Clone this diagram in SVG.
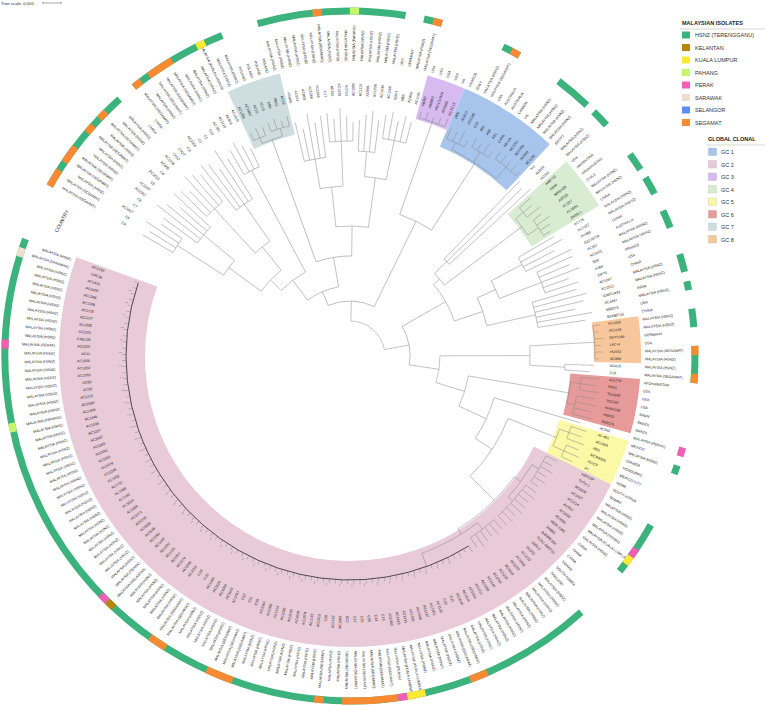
<svg xmlns="http://www.w3.org/2000/svg" width="765" height="705" viewBox="0 0 765 705">
<style>
text{font-family:"Liberation Sans",Arial,sans-serif;fill:#222}
.lv text{font-size:3.6px;dominant-baseline:central}
.f text{text-anchor:end}
.cn line,.cn circle,.cn path{stroke:#8c8c8c;stroke-width:.5;fill:none}
.rg circle,.ring circle{fill:none}
.ring circle{stroke-width:7}
.lg text{font-size:5.5px;fill:#333}
.lg .h{font-weight:bold;fill:#222}
</style>
<rect width="765" height="705" fill="#fff"/>
<g transform="translate(350,356)">
<g id="ranges" class="rg">
<circle r="259.5" stroke-width="63" stroke="#cddde0" pathLength="360" stroke-dasharray="10.85 999" transform="rotate(245.175)"/>
<circle r="268.5" stroke-width="45" stroke="#d6baf0" pathLength="360" stroke-dasharray="7.75 999" transform="rotate(285.475)"/>
<circle r="259.5" stroke-width="63" stroke="#a7c4ec" pathLength="360" stroke-dasharray="20.15 999" transform="rotate(293.225)"/>
<circle r="251.5" stroke-width="79" stroke="#d7ecd0" pathLength="360" stroke-dasharray="10.85 999" transform="rotate(318.025)"/>
<circle r="267.5" stroke-width="47" stroke="#f7c69b" pathLength="360" stroke-dasharray="9.3 999" transform="rotate(352.125)"/>
<circle r="256" stroke-width="70" stroke="#e69a99" pathLength="360" stroke-dasharray="10.85 999" transform="rotate(4.525)"/>
<circle r="255" stroke-width="72" stroke="#fcf9a6" pathLength="360" stroke-dasharray="9.3 999" transform="rotate(16.925)"/>
<circle r="248" stroke-width="86" stroke="#e8cbd7" pathLength="360" stroke-dasharray="173.6 999" transform="rotate(26.225)"/>
</g>
<g id="edges" class="cn">
<circle r="205" pathLength="360" stroke-dasharray="4.65 999" transform="rotate(210.3)"/>
<circle r="190" pathLength="360" stroke-dasharray="6.2 999" transform="rotate(216.5)"/>
<circle r="200" pathLength="360" stroke-dasharray="6.2 999" transform="rotate(224.25)"/>
<circle r="185" pathLength="360" stroke-dasharray="6.2 999" transform="rotate(232)"/>
<circle r="210" pathLength="360" stroke-dasharray="4.65 999" transform="rotate(239.75)"/>
<circle r="150" pathLength="360" stroke-dasharray="6.975 999" transform="rotate(212.625)"/>
<circle r="140" pathLength="360" stroke-dasharray="7.75 999" transform="rotate(227.35)"/>
<circle r="110" pathLength="360" stroke-dasharray="15.115 999" transform="rotate(216.11)"/>
<circle r="95" pathLength="360" stroke-dasharray="18.405 999" transform="rotate(223.67)"/>
<circle r="236" pathLength="360" stroke-dasharray="3.1 999" transform="rotate(245.95)"/>
<circle r="238" pathLength="360" stroke-dasharray="4.65 999" transform="rotate(250.6)"/>
<circle r="230" pathLength="360" stroke-dasharray="5.425 999" transform="rotate(247.5)"/>
<circle r="200" pathLength="360" stroke-dasharray="6.2 999" transform="rotate(256.8)"/>
<circle r="215" pathLength="360" stroke-dasharray="6.2 999" transform="rotate(264.55)"/>
<circle r="205" pathLength="360" stroke-dasharray="4.65 999" transform="rotate(272.3)"/>
<circle r="220" pathLength="360" stroke-dasharray="6.2 999" transform="rotate(278.5)"/>
<circle r="170" pathLength="360" stroke-dasharray="7.75 999" transform="rotate(259.9)"/>
<circle r="180" pathLength="360" stroke-dasharray="6.975 999" transform="rotate(274.625)"/>
<circle r="130" pathLength="360" stroke-dasharray="14.335 999" transform="rotate(263.775)"/>
<circle r="100" pathLength="360" stroke-dasharray="20.73 999" transform="rotate(250.21)"/>
<circle r="70" pathLength="360" stroke-dasharray="27.705 999" transform="rotate(232.87)"/>
<circle r="248" pathLength="360" stroke-dasharray="6.2 999" transform="rotate(286.25)"/>
<circle r="238" pathLength="360" stroke-dasharray="4.65 999" transform="rotate(294)"/>
<circle r="242" pathLength="360" stroke-dasharray="4.65 999" transform="rotate(300.2)"/>
<circle r="245" pathLength="360" stroke-dasharray="6.2 999" transform="rotate(306.4)"/>
<circle r="230" pathLength="360" stroke-dasharray="13.175 999" transform="rotate(296.325)"/>
<circle r="150" pathLength="360" stroke-dasharray="13.56 999" transform="rotate(289.35)"/>
<circle r="55" pathLength="360" stroke-dasharray="49.41 999" transform="rotate(246.72)"/>
<circle r="135" pathLength="360" stroke-dasharray="3.1 999" transform="rotate(314.15)"/>
<circle r="225" pathLength="360" stroke-dasharray="3.1 999" transform="rotate(318.8)"/>
<circle r="228" pathLength="360" stroke-dasharray="4.65 999" transform="rotate(323.45)"/>
<circle r="215" pathLength="360" stroke-dasharray="5.425 999" transform="rotate(320.35)"/>
<circle r="118" pathLength="360" stroke-dasharray="7.36 999" transform="rotate(315.7)"/>
<circle r="195" pathLength="360" stroke-dasharray="4.65 999" transform="rotate(329.65)"/>
<circle r="205" pathLength="360" stroke-dasharray="6.2 999" transform="rotate(335.85)"/>
<circle r="190" pathLength="360" stroke-dasharray="7.75 999" transform="rotate(343.6)"/>
<circle r="160" pathLength="360" stroke-dasharray="6.975 999" transform="rotate(331.975)"/>
<circle r="140" pathLength="360" stroke-dasharray="12.015 999" transform="rotate(335.46)"/>
<circle r="110" pathLength="360" stroke-dasharray="22.09 999" transform="rotate(319.38)"/>
<circle r="245" pathLength="360" stroke-dasharray="7.75 999" transform="rotate(352.9)"/>
<circle r="215" pathLength="360" stroke-dasharray="1.55 999" transform="rotate(2.2)"/>
<circle r="180" pathLength="360" stroke-dasharray="6.2 999" transform="rotate(356.775)"/>
<circle r="232" pathLength="360" stroke-dasharray="3.1 999" transform="rotate(5.3)"/>
<circle r="230" pathLength="360" stroke-dasharray="4.65 999" transform="rotate(9.95)"/>
<circle r="222" pathLength="360" stroke-dasharray="5.425 999" transform="rotate(6.85)"/>
<circle r="232" pathLength="360" stroke-dasharray="3.1 999" transform="rotate(17.7)"/>
<circle r="234" pathLength="360" stroke-dasharray="3.1 999" transform="rotate(22.35)"/>
<circle r="222" pathLength="360" stroke-dasharray="4.65 999" transform="rotate(19.25)"/>
<circle r="220" pathLength="360" stroke-dasharray="7.75 999" transform="rotate(27)"/>
<circle r="218" pathLength="360" stroke-dasharray="10.85 999" transform="rotate(36.3)"/>
<circle r="212" pathLength="360" stroke-dasharray="10.85 999" transform="rotate(30.875)"/>
<circle r="218" pathLength="360" stroke-dasharray="7.75 999" transform="rotate(48.7)"/>
<circle r="210" pathLength="360" stroke-dasharray="17.425 999" transform="rotate(52.575)"/>
<circle r="204" pathLength="360" stroke-dasharray="21.7 999" transform="rotate(36.3)"/>
<circle r="170" pathLength="360" stroke-dasharray="23.425 999" transform="rotate(21.575)"/>
<circle r="150" pathLength="360" stroke-dasharray="17.14 999" transform="rotate(16.15)"/>
<circle r="120" pathLength="360" stroke-dasharray="15.16 999" transform="rotate(9.56)"/>
<circle r="90" pathLength="360" stroke-dasharray="17.265 999" transform="rotate(359.875)"/>
<circle r="60" pathLength="360" stroke-dasharray="38.075 999" transform="rotate(330.425)"/>
<circle r="35" pathLength="360" stroke-dasharray="78.035 999" transform="rotate(271.425)"/>
<line x1="150" x2="205" transform="rotate(212.625)"/>
<line x1="150" x2="190" transform="rotate(219.6)"/>
<line x1="140" x2="200" transform="rotate(227.35)"/>
<line x1="140" x2="185" transform="rotate(235.1)"/>
<line x1="95" x2="210" transform="rotate(242.075)"/>
<line x1="110" x2="150" transform="rotate(216.11)"/>
<line x1="110" x2="140" transform="rotate(231.225)"/>
<line x1="95" x2="110" transform="rotate(223.67)"/>
<line x1="70" x2="95" transform="rotate(232.87)"/>
<line x1="230" x2="236" transform="rotate(247.5)"/>
<line x1="230" x2="238" transform="rotate(252.925)"/>
<line x1="100" x2="230" transform="rotate(250.21)"/>
<line x1="170" x2="200" transform="rotate(259.9)"/>
<line x1="170" x2="215" transform="rotate(267.65)"/>
<line x1="180" x2="205" transform="rotate(274.625)"/>
<line x1="180" x2="220" transform="rotate(281.6)"/>
<line x1="130" x2="170" transform="rotate(263.775)"/>
<line x1="130" x2="180" transform="rotate(278.11)"/>
<line x1="100" x2="130" transform="rotate(270.94)"/>
<line x1="70" x2="100" transform="rotate(260.575)"/>
<line x1="55" x2="70" transform="rotate(246.72)"/>
<line x1="150" x2="248" transform="rotate(289.35)"/>
<line x1="230" x2="238" transform="rotate(296.325)"/>
<line x1="230" x2="242" transform="rotate(302.525)"/>
<line x1="230" x2="245" transform="rotate(309.5)"/>
<line x1="150" x2="230" transform="rotate(302.91)"/>
<line x1="55" x2="150" transform="rotate(296.13)"/>
<line x1="35" x2="55" transform="rotate(271.425)"/>
<line x1="118" x2="135" transform="rotate(315.7)"/>
<line x1="215" x2="225" transform="rotate(320.35)"/>
<line x1="215" x2="228" transform="rotate(325.775)"/>
<line x1="118" x2="215" transform="rotate(323.06)"/>
<line x1="110" x2="118" transform="rotate(319.38)"/>
<line x1="160" x2="195" transform="rotate(331.975)"/>
<line x1="160" x2="205" transform="rotate(338.95)"/>
<line x1="140" x2="160" transform="rotate(335.46)"/>
<line x1="140" x2="190" transform="rotate(347.475)"/>
<line x1="110" x2="140" transform="rotate(341.47)"/>
<line x1="60" x2="110" transform="rotate(330.425)"/>
<line x1="180" x2="245" transform="rotate(356.775)"/>
<line x1="180" x2="215" transform="rotate(2.975)"/>
<line x1="90" x2="180" transform="rotate(359.875)"/>
<line x1="222" x2="232" transform="rotate(6.85)"/>
<line x1="222" x2="230" transform="rotate(12.275)"/>
<line x1="120" x2="222" transform="rotate(9.56)"/>
<line x1="222" x2="232" transform="rotate(19.25)"/>
<line x1="222" x2="234" transform="rotate(23.9)"/>
<line x1="170" x2="222" transform="rotate(21.575)"/>
<line x1="212" x2="220" transform="rotate(30.875)"/>
<line x1="212" x2="218" transform="rotate(41.725)"/>
<line x1="204" x2="212" transform="rotate(36.3)"/>
<line x1="210" x2="218" transform="rotate(52.575)"/>
<line x1="210" x2="224" transform="rotate(70)"/>
<line x1="204" x2="210" transform="rotate(58)"/>
<line x1="170" x2="204" transform="rotate(45)"/>
<line x1="150" x2="170" transform="rotate(33.29)"/>
<line x1="120" x2="150" transform="rotate(24.72)"/>
<line x1="90" x2="120" transform="rotate(17.14)"/>
<line x1="60" x2="90" transform="rotate(8.5)"/>
<line x1="35" x2="60" transform="rotate(349.46)"/>
<line x1="205" x2="240" transform="rotate(210.3)"/>
<line x1="205" x2="236" transform="rotate(211.85)"/>
<line x1="205" x2="244" transform="rotate(213.4)"/>
<line x1="205" x2="230" transform="rotate(214.95)"/>
<line x1="190" x2="232" transform="rotate(216.5)"/>
<line x1="190" x2="245" transform="rotate(218.05)"/>
<line x1="190" x2="238" transform="rotate(219.6)"/>
<line x1="190" x2="226" transform="rotate(221.15)"/>
<line x1="190" x2="240" transform="rotate(222.7)"/>
<line x1="200" x2="236" transform="rotate(224.25)"/>
<line x1="200" x2="230" transform="rotate(225.8)"/>
<line x1="200" x2="244" transform="rotate(227.35)"/>
<line x1="200" x2="240" transform="rotate(228.9)"/>
<line x1="200" x2="235" transform="rotate(230.45)"/>
<line x1="185" x2="242" transform="rotate(232)"/>
<line x1="185" x2="238" transform="rotate(233.55)"/>
<line x1="185" x2="228" transform="rotate(235.1)"/>
<line x1="185" x2="246" transform="rotate(236.65)"/>
<line x1="185" x2="232" transform="rotate(238.2)"/>
<line x1="210" x2="238" transform="rotate(239.75)"/>
<line x1="210" x2="243" transform="rotate(241.3)"/>
<line x1="210" x2="236" transform="rotate(242.85)"/>
<line x1="210" x2="230" transform="rotate(244.4)"/>
<line x1="236" x2="244" transform="rotate(245.95)"/>
<line x1="236" x2="247" transform="rotate(247.5)"/>
<line x1="236" x2="245" transform="rotate(249.05)"/>
<line x1="238" x2="247" transform="rotate(250.6)"/>
<line x1="238" x2="249" transform="rotate(252.15)"/>
<line x1="238" x2="245" transform="rotate(253.7)"/>
<line x1="238" x2="248" transform="rotate(255.25)"/>
<line x1="200" x2="240" transform="rotate(256.8)"/>
<line x1="200" x2="232" transform="rotate(258.35)"/>
<line x1="200" x2="246" transform="rotate(259.9)"/>
<line x1="200" x2="236" transform="rotate(261.45)"/>
<line x1="200" x2="242" transform="rotate(263)"/>
<line x1="215" x2="244" transform="rotate(264.55)"/>
<line x1="215" x2="238" transform="rotate(266.1)"/>
<line x1="215" x2="248" transform="rotate(267.65)"/>
<line x1="215" x2="240" transform="rotate(269.2)"/>
<line x1="215" x2="234" transform="rotate(270.75)"/>
<line x1="205" x2="236" transform="rotate(272.3)"/>
<line x1="205" x2="242" transform="rotate(273.85)"/>
<line x1="205" x2="246" transform="rotate(275.4)"/>
<line x1="205" x2="238" transform="rotate(276.95)"/>
<line x1="220" x2="244" transform="rotate(278.5)"/>
<line x1="220" x2="248" transform="rotate(280.05)"/>
<line x1="220" x2="240" transform="rotate(281.6)"/>
<line x1="220" x2="246" transform="rotate(283.15)"/>
<line x1="220" x2="242" transform="rotate(284.7)"/>
<line x1="248" x2="254" transform="rotate(286.25)"/>
<line x1="248" x2="256" transform="rotate(287.8)"/>
<line x1="248" x2="253" transform="rotate(289.35)"/>
<line x1="248" x2="255" transform="rotate(290.9)"/>
<line x1="248" x2="257" transform="rotate(292.45)"/>
<line x1="238" x2="250" transform="rotate(294)"/>
<line x1="238" x2="248" transform="rotate(295.55)"/>
<line x1="238" x2="252" transform="rotate(297.1)"/>
<line x1="238" x2="246" transform="rotate(298.65)"/>
<line x1="242" x2="252" transform="rotate(300.2)"/>
<line x1="242" x2="250" transform="rotate(301.75)"/>
<line x1="242" x2="254" transform="rotate(303.3)"/>
<line x1="242" x2="248" transform="rotate(304.85)"/>
<line x1="245" x2="253" transform="rotate(306.4)"/>
<line x1="245" x2="255" transform="rotate(307.95)"/>
<line x1="245" x2="252" transform="rotate(309.5)"/>
<line x1="245" x2="254" transform="rotate(311.05)"/>
<line x1="245" x2="250" transform="rotate(312.6)"/>
<line x1="135" x2="244" transform="rotate(314.15)"/>
<line x1="135" x2="240" transform="rotate(315.7)"/>
<line x1="135" x2="246" transform="rotate(317.25)"/>
<line x1="225" x2="240" transform="rotate(318.8)"/>
<line x1="225" x2="236" transform="rotate(320.35)"/>
<line x1="225" x2="242" transform="rotate(321.9)"/>
<line x1="228" x2="238" transform="rotate(323.45)"/>
<line x1="228" x2="244" transform="rotate(325)"/>
<line x1="228" x2="240" transform="rotate(326.55)"/>
<line x1="228" x2="236" transform="rotate(328.1)"/>
<line x1="195" x2="236" transform="rotate(329.65)"/>
<line x1="195" x2="242" transform="rotate(331.2)"/>
<line x1="195" x2="230" transform="rotate(332.75)"/>
<line x1="195" x2="246" transform="rotate(334.3)"/>
<line x1="205" x2="244" transform="rotate(335.85)"/>
<line x1="205" x2="238" transform="rotate(337.4)"/>
<line x1="205" x2="246" transform="rotate(338.95)"/>
<line x1="205" x2="232" transform="rotate(340.5)"/>
<line x1="205" x2="240" transform="rotate(342.05)"/>
<line x1="190" x2="236" transform="rotate(343.6)"/>
<line x1="190" x2="244" transform="rotate(345.15)"/>
<line x1="190" x2="240" transform="rotate(346.7)"/>
<line x1="190" x2="230" transform="rotate(348.25)"/>
<line x1="190" x2="246" transform="rotate(349.8)"/>
<line x1="190" x2="238" transform="rotate(351.35)"/>
<line x1="245" x2="252" transform="rotate(352.9)"/>
<line x1="245" x2="250" transform="rotate(354.45)"/>
<line x1="245" x2="254" transform="rotate(356)"/>
<line x1="245" x2="251" transform="rotate(357.55)"/>
<line x1="245" x2="253" transform="rotate(359.1)"/>
<line x1="245" x2="249" transform="rotate(0.65)"/>
<line x1="215" x2="244" transform="rotate(2.2)"/>
<line x1="215" x2="240" transform="rotate(3.75)"/>
<line x1="232" x2="250" transform="rotate(5.3)"/>
<line x1="232" x2="248" transform="rotate(6.85)"/>
<line x1="232" x2="252" transform="rotate(8.4)"/>
<line x1="230" x2="249" transform="rotate(9.95)"/>
<line x1="230" x2="251" transform="rotate(11.5)"/>
<line x1="230" x2="247" transform="rotate(13.05)"/>
<line x1="230" x2="250" transform="rotate(14.6)"/>
<line x1="150" x2="240" transform="rotate(16.15)"/>
<line x1="232" x2="248" transform="rotate(17.7)"/>
<line x1="232" x2="245" transform="rotate(19.25)"/>
<line x1="232" x2="250" transform="rotate(20.8)"/>
<line x1="234" x2="247" transform="rotate(22.35)"/>
<line x1="234" x2="250" transform="rotate(23.9)"/>
<line x1="234" x2="246" transform="rotate(25.45)"/>
<line x1="220" x2="232" transform="rotate(27)"/>
<line x1="220" x2="230" transform="rotate(28.55)"/>
<line x1="220" x2="234" transform="rotate(30.1)"/>
<line x1="220" x2="231" transform="rotate(31.65)"/>
<line x1="220" x2="233" transform="rotate(33.2)"/>
<line x1="220" x2="229" transform="rotate(34.75)"/>
<line x1="218" x2="231" transform="rotate(36.3)"/>
<line x1="218" x2="233" transform="rotate(37.85)"/>
<line x1="218" x2="230" transform="rotate(39.4)"/>
<line x1="218" x2="232" transform="rotate(40.95)"/>
<line x1="218" x2="234" transform="rotate(42.5)"/>
<line x1="218" x2="230" transform="rotate(44.05)"/>
<line x1="218" x2="232" transform="rotate(45.6)"/>
<line x1="218" x2="231" transform="rotate(47.15)"/>
<line x1="218" x2="230" transform="rotate(48.7)"/>
<line x1="218" x2="232" transform="rotate(50.25)"/>
<line x1="218" x2="229" transform="rotate(51.8)"/>
<line x1="218" x2="231" transform="rotate(53.35)"/>
<line x1="218" x2="233" transform="rotate(54.9)"/>
<line x1="218" x2="230" transform="rotate(56.45)"/>
<path d="M119.96 191.52A226 226 0 0 1 -213.55 -73.99" pathLength="141.17" style="stroke-width:4;stroke-dasharray:0.12 1.43"/>
<path d="M121.82 194.49A229.5 229.5 0 0 1 -216.85 -75.14" pathLength="141.17" style="stroke-width:3;stroke-dasharray:0.12 3.03"/>
<circle r="224" pathLength="360" stroke-dasharray="141.05 999" transform="rotate(58)" style="stroke:#3a3a3a;stroke-width:.8"/>
</g>
<g class="lv f">
<g id="n0" transform="rotate(30.3)"><text x="-260">C9</text><text x="-295">MALAYSIA (SEGAMAT)</text></g>
<g id="n1" transform="rotate(31.85)"><text x="-260">C8</text><text x="-295">MALAYSIA (SEGAMAT)</text></g>
<g id="n2" transform="rotate(33.4)"><text x="-260">AC1017</text><text x="-295">MALAYSIA (HSNZ)</text></g>
<g id="n3" transform="rotate(34.95)"><text x="-260">C7</text><text x="-295">MALAYSIA (SEGAMAT)</text></g>
<g id="n4" transform="rotate(36.5)"><text x="-260">C6</text><text x="-295">MALAYSIA (SEGAMAT)</text></g>
<g id="n5" transform="rotate(38.05)"><text x="-260">AC1092</text><text x="-295">MALAYSIA (HSNZ)</text></g>
<g id="n6" transform="rotate(39.6)"><text x="-260">AC1107</text><text x="-295">MALAYSIA (HSNZ)</text></g>
<g id="n7" transform="rotate(41.15)"><text x="-260">C5</text><text x="-295">MALAYSIA (SEGAMAT)</text></g>
<g id="n8" transform="rotate(42.7)"><text x="-260">AC1019</text><text x="-295">MALAYSIA (HSNZ)</text></g>
<g id="n9" transform="rotate(44.25)"><text x="-260">C4</text><text x="-295">MALAYSIA (SEGAMAT)</text></g>
<g id="n10" transform="rotate(45.8)"><text x="-260">AC905</text><text x="-295">MALAYSIA (HSNZ)</text></g>
<g id="n11" transform="rotate(47.35)"><text x="-260">AC1108</text><text x="-295">MALAYSIA (HSNZ)</text></g>
<g id="n12" transform="rotate(48.9)"><text x="-260">CH12</text><text x="-295">CHINA</text></g>
<g id="n13" transform="rotate(50.45)"><text x="-260">CH27</text><text x="-295">CHINA</text></g>
<g id="n14" transform="rotate(52)"><text x="-260">C3</text><text x="-295">MALAYSIA (SEGAMAT)</text></g>
<g id="n15" transform="rotate(53.55)"><text x="-260">AC1056</text><text x="-295">MALAYSIA (HSNZ)</text></g>
<g id="n16" transform="rotate(55.1)"><text x="-260">C2</text><text x="-295">MALAYSIA (SEGAMAT)</text></g>
<g id="n17" transform="rotate(56.65)"><text x="-260">C1</text><text x="-295">MALAYSIA (SEGAMAT)</text></g>
<g id="n18" transform="rotate(58.2)"><text x="-260">C12</text><text x="-295">MALAYSIA (SEGAMAT)</text></g>
<g id="n19" transform="rotate(59.75)"><text x="-260">AC760</text><text x="-295">MALAYSIA (HSNZ)</text></g>
<g id="n20" transform="rotate(61.3)"><text x="-260">AC1120</text><text x="-295">MALAYSIA (HSNZ)</text></g>
<g id="n21" transform="rotate(62.85)"><text x="-260">AC824</text><text x="-295">MALAYSIA (HSNZ)</text></g>
<g id="n22" transform="rotate(64.4)"><text x="-260">AC1410</text><text x="-295">MALAYSIA (KUALA LUMPUR)</text></g>
<g id="n23" transform="rotate(65.95)"><text x="-260">AC1236</text><text x="-295">MALAYSIA (HSNZ)</text></g>
<g id="n24" transform="rotate(67.5)"><text x="-260">AC1063</text><text x="-295">MALAYSIA (HSNZ)</text></g>
<g id="n25" transform="rotate(69.05)"><text x="-260">AC15</text><text x="-295">POLAND</text></g>
<g id="n26" transform="rotate(70.6)"><text x="-260">AC10</text><text x="-295">POLAND</text></g>
<g id="n27" transform="rotate(72.15)"><text x="-260">AB9</text><text x="-295">POLAND</text></g>
<g id="n28" transform="rotate(73.7)"><text x="-260">AB11</text><text x="-295">POLAND</text></g>
<g id="n29" transform="rotate(75.25)"><text x="-260">AC26</text><text x="-295">MALAYSIA (HSNZ)</text></g>
<g id="n30" transform="rotate(76.8)"><text x="-260">AC894</text><text x="-295">MALAYSIA (HSNZ)</text></g>
<g id="n31" transform="rotate(78.35)"><text x="-260">AC974</text><text x="-295">MALAYSIA (HSNZ)</text></g>
<g id="n32" transform="rotate(79.9)"><text x="-260">AC803</text><text x="-295">MALAYSIA (HSNZ)</text></g>
<g id="n33" transform="rotate(81.45)"><text x="-260">AC1268</text><text x="-295">MALAYSIA (HSNZ)</text></g>
<g id="n34" transform="rotate(83)"><text x="-260">AC1055</text><text x="-295">MALAYSIA (HSNZ)</text></g>
<g id="n35" transform="rotate(84.55)"><text x="-260">C17</text><text x="-295">MALAYSIA (SEGAMAT)</text></g>
<g id="n36" transform="rotate(86.1)"><text x="-260">AC651</text><text x="-295">MALAYSIA (HSNZ)</text></g>
<g id="n37" transform="rotate(87.65)"><text x="-260">AC1228</text><text x="-295">MALAYSIA (HSNZ)</text></g>
<g id="n38" transform="rotate(89.2)"><text x="-260">AC763</text><text x="-295">MALAYSIA (HSNZ)</text></g>
</g>
<g class="lv">
<g id="n39" transform="rotate(270.75)"><text x="260">AC1005</text><text x="295">MALAYSIA (PAHANG)</text></g>
<g id="n40" transform="rotate(272.3)"><text x="260">AC1131</text><text x="295">MALAYSIA (HSNZ)</text></g>
<g id="n41" transform="rotate(273.85)"><text x="260">AC896</text><text x="295">MALAYSIA (HSNZ)</text></g>
<g id="n42" transform="rotate(275.4)"><text x="260">AC1226</text><text x="295">MALAYSIA (HSNZ)</text></g>
<g id="n43" transform="rotate(276.95)"><text x="260">AC1040</text><text x="295">MALAYSIA (HSNZ)</text></g>
<g id="n44" transform="rotate(278.5)"><text x="260">AC1168</text><text x="295">MALAYSIA (HSNZ)</text></g>
<g id="n45" transform="rotate(280.05)"><text x="260">SDF1</text><text x="295">USA</text></g>
<g id="n46" transform="rotate(281.6)"><text x="260">AB6</text><text x="295">GERMANY</text></g>
<g id="n47" transform="rotate(283.15)"><text x="260">AC856</text><text x="295">MALAYSIA (HSNZ)</text></g>
<g id="n48" transform="rotate(284.7)"><text x="260">AC1105</text><text x="295">MALAYSIA (SEGAMAT)</text></g>
<g id="n49" transform="rotate(286.25)"><text x="260">AB307</text><text x="295">USA</text></g>
<g id="n50" transform="rotate(287.8)"><text x="260">AB0057</text><text x="295">USA</text></g>
<g id="n51" transform="rotate(289.35)"><text x="260">ATCC17978</text><text x="295">USA</text></g>
<g id="n52" transform="rotate(290.9)"><text x="260">AR0083</text><text x="295">USA</text></g>
<g id="n53" transform="rotate(292.45)"><text x="260">NCTC13</text><text x="295">UK</text></g>
<g id="n54" transform="rotate(294)"><text x="260">AYE</text><text x="295">FRANCE</text></g>
<g id="n55" transform="rotate(295.55)"><text x="260">ACICU</text><text x="295">ITALY</text></g>
<g id="n56" transform="rotate(297.1)"><text x="260">AC1246</text><text x="295">MALAYSIA (HSNZ)</text></g>
<g id="n57" transform="rotate(298.65)"><text x="260">C20</text><text x="295">MALAYSIA (SEGAMAT)</text></g>
<g id="n58" transform="rotate(300.2)"><text x="260">AB1</text><text x="295">USA</text></g>
<g id="n59" transform="rotate(301.75)"><text x="260">A85</text><text x="295">AUSTRALIA</text></g>
<g id="n60" transform="rotate(303.3)"><text x="260">A91</text><text x="295">AUSTRALIA</text></g>
<g id="n61" transform="rotate(304.85)"><text x="260">CAN1</text><text x="295">CANADA</text></g>
<g id="n62" transform="rotate(306.4)"><text x="260">AB-UK</text><text x="295">UK</text></g>
<g id="n63" transform="rotate(307.95)"><text x="260">AC1021</text><text x="295">MALAYSIA (HSNZ)</text></g>
<g id="n64" transform="rotate(309.5)"><text x="260">AC1096</text><text x="295">MALAYSIA (HSNZ)</text></g>
<g id="n65" transform="rotate(311.05)"><text x="260">AC830</text><text x="295">MALAYSIA (HSNZ)</text></g>
<g id="n66" transform="rotate(312.6)"><text x="260">AC1190</text><text x="295">MALAYSIA (HSNZ)</text></g>
<g id="n67" transform="rotate(314.15)"><text x="260">KU</text><text x="295">EGYPT</text></g>
<g id="n68" transform="rotate(315.7)"><text x="260">AC839</text><text x="295">MALAYSIA (HSNZ)</text></g>
<g id="n69" transform="rotate(317.25)"><text x="260">AC315</text><text x="295">MALAYSIA (HSNZ)</text></g>
<g id="n70" transform="rotate(318.8)"><text x="260">AM6713</text><text x="295">USA</text></g>
<g id="n71" transform="rotate(320.35)"><text x="260">AB40</text><text x="295">ARGENTINA</text></g>
<g id="n72" transform="rotate(321.9)"><text x="260">MRSN58</text><text x="295">AFGHANISTAN</text></g>
<g id="n73" transform="rotate(323.45)"><text x="260">ABT35</text><text x="295">CHILE</text></g>
<g id="n74" transform="rotate(325)"><text x="260">AC227</text><text x="295">MALAYSIA (HSNZ)</text></g>
<g id="n75" transform="rotate(326.55)"><text x="260">AC1081</text><text x="295">MALAYSIA (HSNZ)</text></g>
<g id="n76" transform="rotate(328.1)"><text x="260">ZW85-1</text><text x="295">CHINA</text></g>
<g id="n77" transform="rotate(329.65)"><text x="260">AC176</text><text x="295">MALAYSIA (HSNZ)</text></g>
<g id="n78" transform="rotate(331.2)"><text x="260">AC1227</text><text x="295">MALAYSIA (HSNZ)</text></g>
<g id="n79" transform="rotate(332.75)"><text x="260">XH386</text><text x="295">CHINA</text></g>
<g id="n80" transform="rotate(334.3)"><text x="260">D1279779</text><text x="295">AUSTRALIA</text></g>
<g id="n81" transform="rotate(335.85)"><text x="260">AC167</text><text x="295">MALAYSIA (HSNZ)</text></g>
<g id="n82" transform="rotate(337.4)"><text x="260">AC1401</text><text x="295">MALAYSIA (HSNZ)</text></g>
<g id="n83" transform="rotate(338.95)"><text x="260">SDF</text><text x="295">FRANCE</text></g>
<g id="n84" transform="rotate(340.5)"><text x="260">A388</text><text x="295">USA</text></g>
<g id="n85" transform="rotate(342.05)"><text x="260">CIP70</text><text x="295">CHINA</text></g>
<g id="n86" transform="rotate(343.6)"><text x="260">AC1047</text><text x="295">MALAYSIA (HSNZ)</text></g>
<g id="n87" transform="rotate(345.15)"><text x="260">AC1012</text><text x="295">MALAYSIA (HSNZ)</text></g>
<g id="n88" transform="rotate(346.7)"><text x="260">IOMTU433</text><text x="295">INDIA</text></g>
<g id="n89" transform="rotate(348.25)"><text x="260">AC1487</text><text x="295">MALAYSIA (HSNZ)</text></g>
<g id="n90" transform="rotate(349.8)"><text x="260">AB5075</text><text x="295">USA</text></g>
<g id="n91" transform="rotate(351.35)"><text x="260">BJAB0715</text><text x="295">CHINA</text></g>
<g id="n92" transform="rotate(352.9)"><text x="260">AC1000</text><text x="295">MALAYSIA (HSNZ)</text></g>
<g id="n93" transform="rotate(354.45)"><text x="260">AC1126</text><text x="295">MALAYSIA (HSNZ)</text></g>
<g id="n94" transform="rotate(356)"><text x="260">DKY1166</text><text x="295">GERMANY</text></g>
<g id="n95" transform="rotate(357.55)"><text x="260">LAC-4</text><text x="295">USA</text></g>
<g id="n96" transform="rotate(359.1)"><text x="260">HU042</text><text x="295">MALAYSIA (SEGAMAT)</text></g>
<g id="n97" transform="rotate(0.65)"><text x="260">AC898</text><text x="295">MALAYSIA (HSNZ)</text></g>
<g id="n98" transform="rotate(2.2)"><text x="260">AC418</text><text x="295">MALAYSIA (HSNZ)</text></g>
<g id="n99" transform="rotate(3.75)"><text x="260">C18</text><text x="295">MALAYSIA (SEGAMAT)</text></g>
<g id="n100" transform="rotate(5.3)"><text x="260">AF1779</text><text x="295">AFGHANISTAN</text></g>
<g id="n101" transform="rotate(6.85)"><text x="260">PR11</text><text x="295">USA</text></g>
<g id="n102" transform="rotate(8.4)"><text x="260">TG1908</text><text x="295">USA</text></g>
<g id="n103" transform="rotate(9.95)"><text x="260">TG2287</text><text x="295">USA</text></g>
<g id="n104" transform="rotate(11.5)"><text x="260">HHN1138</text><text x="295">SPAIN</text></g>
<g id="n105" transform="rotate(13.05)"><text x="260">HN002</text><text x="295">BRAZIL</text></g>
<g id="n106" transform="rotate(14.6)"><text x="260">AB0175</text><text x="295">BRAZIL</text></g>
<g id="n107" transform="rotate(16.15)"><text x="260">AC652</text><text x="295">MALAYSIA (PERAK)</text></g>
<g id="n108" transform="rotate(17.7)"><text x="260">AF-401</text><text x="295">MEXICO</text></g>
<g id="n109" transform="rotate(19.25)"><text x="260">AC1458</text><text x="295">MALAYSIA (HSNZ)</text></g>
<g id="n110" transform="rotate(20.8)"><text x="260">AB3</text><text x="295">CANADA</text></g>
<g id="n111" transform="rotate(22.35)"><text x="260">MCR8369</text><text x="295">HONDURAS</text></g>
<g id="n112" transform="rotate(23.9)"><text x="260">ACICP</text><text x="295">MEXICO CITY</text></g>
<g id="n113" transform="rotate(25.45)"><text x="260">A1</text><text x="295">ROME</text></g>
<g id="n114" transform="rotate(27)"><text x="260">KBN10P</text><text x="295">SOUTH KOREA</text></g>
<g id="n115" transform="rotate(28.55)"><text x="260">TYTH-1</text><text x="295">TAIWAN</text></g>
<g id="n116" transform="rotate(30.1)"><text x="260">AC1100</text><text x="295">MALAYSIA (HSNZ)</text></g>
<g id="n117" transform="rotate(31.65)"><text x="260">AC1027</text><text x="295">MALAYSIA (HSNZ)</text></g>
<g id="n118" transform="rotate(33.2)"><text x="260">AC1214</text><text x="295">MALAYSIA (HSNZ)</text></g>
<g id="n119" transform="rotate(34.75)"><text x="260">AC654</text><text x="295">MALAYSIA (PERAK)</text></g>
<g id="n120" transform="rotate(36.3)"><text x="260">AC1416</text><text x="295">MALAYSIA (KUALA LUMPUR)</text></g>
<g id="n121" transform="rotate(37.85)"><text x="260">AC1035</text><text x="295">MALAYSIA (HSNZ)</text></g>
<g id="n122" transform="rotate(39.4)"><text x="260">MDR-ZJ06</text><text x="295">CHINA</text></g>
<g id="n123" transform="rotate(40.95)"><text x="260">XH860</text><text x="295">CHINA</text></g>
<g id="n124" transform="rotate(42.5)"><text x="260">BJAB07104</text><text x="295">CHINA</text></g>
<g id="n125" transform="rotate(44.05)"><text x="260">TCDC-AB0715</text><text x="295">TAIWAN</text></g>
<g id="n126" transform="rotate(45.6)"><text x="260">1656-2</text><text x="295">SOUTH KOREA</text></g>
<g id="n127" transform="rotate(47.15)"><text x="260">DU202</text><text x="295">THAILAND</text></g>
<g id="n128" transform="rotate(48.7)"><text x="260">AC1133</text><text x="295">MALAYSIA (HSNZ)</text></g>
<g id="n129" transform="rotate(50.25)"><text x="260">AC1062</text><text x="295">MALAYSIA (HSNZ)</text></g>
<g id="n130" transform="rotate(51.8)"><text x="260">AC1170</text><text x="295">MALAYSIA (HSNZ)</text></g>
<g id="n131" transform="rotate(53.35)"><text x="260">AC1018</text><text x="295">MALAYSIA (HSNZ)</text></g>
<g id="n132" transform="rotate(54.9)"><text x="260">AC1229</text><text x="295">MALAYSIA (HSNZ)</text></g>
<g id="n133" transform="rotate(56.45)"><text x="260">AC1093</text><text x="295">MALAYSIA (HSNZ)</text></g>
<g id="n134" transform="rotate(58)"><text x="260">AC1140</text><text x="295">MALAYSIA (HSNZ)</text></g>
<g id="n135" transform="rotate(59.55)"><text x="260">AC1084</text><text x="295">MALAYSIA (HSNZ)</text></g>
<g id="n136" transform="rotate(61.1)"><text x="260">AC1211</text><text x="295">MALAYSIA (HSNZ)</text></g>
<g id="n137" transform="rotate(62.65)"><text x="260">AC1004</text><text x="295">MALAYSIA (HSNZ)</text></g>
<g id="n138" transform="rotate(64.2)"><text x="260">AC1159</text><text x="295">MALAYSIA (HSNZ)</text></g>
<g id="n139" transform="rotate(65.75)"><text x="260">AC1076</text><text x="295">MALAYSIA (HSNZ)</text></g>
<g id="n140" transform="rotate(67.3)"><text x="260">C21</text><text x="295">MALAYSIA (SEGAMAT)</text></g>
<g id="n141" transform="rotate(68.85)"><text x="260">C22</text><text x="295">MALAYSIA (SEGAMAT)</text></g>
<g id="n142" transform="rotate(70.4)"><text x="260">AC1122</text><text x="295">MALAYSIA (HSNZ)</text></g>
<g id="n143" transform="rotate(71.95)"><text x="260">AC1031</text><text x="295">MALAYSIA (HSNZ)</text></g>
<g id="n144" transform="rotate(73.5)"><text x="260">AC1187</text><text x="295">MALAYSIA (HSNZ)</text></g>
<g id="n145" transform="rotate(75.05)"><text x="260">AC1048</text><text x="295">MALAYSIA (HSNZ)</text></g>
<g id="n146" transform="rotate(76.6)"><text x="260">AC1205</text><text x="295">MALAYSIA (HSNZ)</text></g>
<g id="n147" transform="rotate(78.15)"><text x="260">AC1411</text><text x="295">MALAYSIA (KUALA LUMPUR)</text></g>
<g id="n148" transform="rotate(79.7)"><text x="260">AC1413</text><text x="295">MALAYSIA (KUALA LUMPUR)</text></g>
<g id="n149" transform="rotate(81.25)"><text x="260">AC1402</text><text x="295">MALAYSIA (PERAK)</text></g>
<g id="n150" transform="rotate(82.8)"><text x="260">C23</text><text x="295">MALAYSIA (SEGAMAT)</text></g>
<g id="n151" transform="rotate(84.35)"><text x="260">C24</text><text x="295">MALAYSIA (SEGAMAT)</text></g>
<g id="n152" transform="rotate(85.9)"><text x="260">C25</text><text x="295">MALAYSIA (SEGAMAT)</text></g>
<g id="n153" transform="rotate(87.45)"><text x="260">C26</text><text x="295">MALAYSIA (SEGAMAT)</text></g>
<g id="n154" transform="rotate(89)"><text x="260">C27</text><text x="295">MALAYSIA (SEGAMAT)</text></g>
</g>
<g class="lv f">
<g id="n155" transform="rotate(270.55)"><text x="-260">C28</text><text x="-295">MALAYSIA (SEGAMAT)</text></g>
<g id="n156" transform="rotate(272.1)"><text x="-260">AC1069</text><text x="-295">MALAYSIA (HSNZ)</text></g>
<g id="n157" transform="rotate(273.65)"><text x="-260">AC1152</text><text x="-295">MALAYSIA (HSNZ)</text></g>
<g id="n158" transform="rotate(275.2)"><text x="-260">C29</text><text x="-295">MALAYSIA (SEGAMAT)</text></g>
<g id="n159" transform="rotate(276.75)"><text x="-260">AC1013</text><text x="-295">MALAYSIA (HSNZ)</text></g>
<g id="n160" transform="rotate(278.3)"><text x="-260">AC1197</text><text x="-295">MALAYSIA (HSNZ)</text></g>
<g id="n161" transform="rotate(279.85)"><text x="-260">AC1074</text><text x="-295">MALAYSIA (HSNZ)</text></g>
<g id="n162" transform="rotate(281.4)"><text x="-260">AC1028</text><text x="-295">MALAYSIA (HSNZ)</text></g>
<g id="n163" transform="rotate(282.95)"><text x="-260">AC1165</text><text x="-295">MALAYSIA (HSNZ)</text></g>
<g id="n164" transform="rotate(284.5)"><text x="-260">AC1090</text><text x="-295">MALAYSIA (HSNZ)</text></g>
<g id="n165" transform="rotate(286.05)"><text x="-260">AC1216</text><text x="-295">MALAYSIA (HSNZ)</text></g>
<g id="n166" transform="rotate(287.6)"><text x="-260">AC1038</text><text x="-295">MALAYSIA (HSNZ)</text></g>
<g id="n167" transform="rotate(289.15)"><text x="-260">AC1143</text><text x="-295">MALAYSIA (HSNZ)</text></g>
<g id="n168" transform="rotate(290.7)"><text x="-260">C30</text><text x="-295">MALAYSIA (SEGAMAT)</text></g>
<g id="n169" transform="rotate(292.25)"><text x="-260">C31</text><text x="-295">MALAYSIA (SEGAMAT)</text></g>
<g id="n170" transform="rotate(293.8)"><text x="-260">C32</text><text x="-295">MALAYSIA (SEGAMAT)</text></g>
<g id="n171" transform="rotate(295.35)"><text x="-260">AC1057</text><text x="-295">MALAYSIA (HSNZ)</text></g>
<g id="n172" transform="rotate(296.9)"><text x="-260">AC1183</text><text x="-295">MALAYSIA (HSNZ)</text></g>
<g id="n173" transform="rotate(298.45)"><text x="-260">AC1009</text><text x="-295">MALAYSIA (HSNZ)</text></g>
<g id="n174" transform="rotate(300)"><text x="-260">AC1124</text><text x="-295">MALAYSIA (HSNZ)</text></g>
<g id="n175" transform="rotate(301.55)"><text x="-260">AC1066</text><text x="-295">MALAYSIA (HSNZ)</text></g>
<g id="n176" transform="rotate(303.1)"><text x="-260">C33</text><text x="-295">MALAYSIA (SEGAMAT)</text></g>
<g id="n177" transform="rotate(304.65)"><text x="-260">C34</text><text x="-295">MALAYSIA (SEGAMAT)</text></g>
<g id="n178" transform="rotate(306.2)"><text x="-260">AC1201</text><text x="-295">MALAYSIA (HSNZ)</text></g>
<g id="n179" transform="rotate(307.75)"><text x="-260">AC1045</text><text x="-295">MALAYSIA (HSNZ)</text></g>
<g id="n180" transform="rotate(309.3)"><text x="-260">AC1174</text><text x="-295">MALAYSIA (HSNZ)</text></g>
<g id="n181" transform="rotate(310.85)"><text x="-260">AC1011</text><text x="-295">MALAYSIA (HSNZ)</text></g>
<g id="n182" transform="rotate(312.4)"><text x="-260">AC1125</text><text x="-295">MALAYSIA (HSNZ)</text></g>
<g id="n183" transform="rotate(313.95)"><text x="-260">AC1302</text><text x="-295">MALAYSIA (KELANTAN)</text></g>
<g id="n184" transform="rotate(315.5)"><text x="-260">AC1405</text><text x="-295">MALAYSIA (PERAK)</text></g>
<g id="n185" transform="rotate(317.05)"><text x="-260">AC1082</text><text x="-295">MALAYSIA (HSNZ)</text></g>
<g id="n186" transform="rotate(318.6)"><text x="-260">AC1148</text><text x="-295">MALAYSIA (HSNZ)</text></g>
<g id="n187" transform="rotate(320.15)"><text x="-260">AC1033</text><text x="-295">MALAYSIA (HSNZ)</text></g>
<g id="n188" transform="rotate(321.7)"><text x="-260">AC1219</text><text x="-295">MALAYSIA (HSNZ)</text></g>
<g id="n189" transform="rotate(323.25)"><text x="-260">AC1071</text><text x="-295">MALAYSIA (HSNZ)</text></g>
<g id="n190" transform="rotate(324.8)"><text x="-260">AC1156</text><text x="-295">MALAYSIA (HSNZ)</text></g>
<g id="n191" transform="rotate(326.35)"><text x="-260">AC1024</text><text x="-295">MALAYSIA (HSNZ)</text></g>
<g id="n192" transform="rotate(327.9)"><text x="-260">AC1192</text><text x="-295">MALAYSIA (HSNZ)</text></g>
<g id="n193" transform="rotate(329.45)"><text x="-260">AC1058</text><text x="-295">MALAYSIA (HSNZ)</text></g>
<g id="n194" transform="rotate(331)"><text x="-260">AC1137</text><text x="-295">MALAYSIA (HSNZ)</text></g>
<g id="n195" transform="rotate(332.55)"><text x="-260">AC1002</text><text x="-295">MALAYSIA (HSNZ)</text></g>
<g id="n196" transform="rotate(334.1)"><text x="-260">AC1209</text><text x="-295">MALAYSIA (HSNZ)</text></g>
<g id="n197" transform="rotate(335.65)"><text x="-260">AC1079</text><text x="-295">MALAYSIA (HSNZ)</text></g>
<g id="n198" transform="rotate(337.2)"><text x="-260">AC1163</text><text x="-295">MALAYSIA (HSNZ)</text></g>
<g id="n199" transform="rotate(338.75)"><text x="-260">AC1041</text><text x="-295">MALAYSIA (HSNZ)</text></g>
<g id="n200" transform="rotate(340.3)"><text x="-260">AC1185</text><text x="-295">MALAYSIA (HSNZ)</text></g>
<g id="n201" transform="rotate(341.85)"><text x="-260">AC1097</text><text x="-295">MALAYSIA (HSNZ)</text></g>
<g id="n202" transform="rotate(343.4)"><text x="-260">AC1207</text><text x="-295">MALAYSIA (HSNZ)</text></g>
<g id="n203" transform="rotate(344.95)"><text x="-260">AC1036</text><text x="-295">MALAYSIA (HSNZ)</text></g>
<g id="n204" transform="rotate(346.5)"><text x="-260">AC1146</text><text x="-295">MALAYSIA (HSNZ)</text></g>
<g id="n205" transform="rotate(348.05)"><text x="-260">AC1403</text><text x="-295">MALAYSIA (PAHANG)</text></g>
<g id="n206" transform="rotate(349.6)"><text x="-260">AC1088</text><text x="-295">MALAYSIA (HSNZ)</text></g>
<g id="n207" transform="rotate(351.15)"><text x="-260">AC1215</text><text x="-295">MALAYSIA (HSNZ)</text></g>
<g id="n208" transform="rotate(352.7)"><text x="-260">AC30</text><text x="-295">MALAYSIA (HSNZ)</text></g>
<g id="n209" transform="rotate(354.25)"><text x="-260">AC59</text><text x="-295">MALAYSIA (HSNZ)</text></g>
<g id="n210" transform="rotate(355.8)"><text x="-260">AC1050</text><text x="-295">MALAYSIA (HSNZ)</text></g>
<g id="n211" transform="rotate(357.35)"><text x="-260">AC1202</text><text x="-295">MALAYSIA (HSNZ)</text></g>
<g id="n212" transform="rotate(358.9)"><text x="-260">AC1606</text><text x="-295">MALAYSIA (HSNZ)</text></g>
<g id="n213" transform="rotate(360.45)"><text x="-260">AC11</text><text x="-295">MALAYSIA (HSNZ)</text></g>
<g id="n214" transform="rotate(362)"><text x="-260">AC1020</text><text x="-295">MALAYSIA (PERAK)</text></g>
<g id="n215" transform="rotate(363.55)"><text x="-260">CRE138</text><text x="-295">MALAYSIA (HSNZ)</text></g>
<g id="n216" transform="rotate(365.1)"><text x="-260">AC1101</text><text x="-295">MALAYSIA (HSNZ)</text></g>
<g id="n217" transform="rotate(366.65)"><text x="-260">AC1220</text><text x="-295">MALAYSIA (HSNZ)</text></g>
<g id="n218" transform="rotate(368.2)"><text x="-260">AC1237</text><text x="-295">MALAYSIA (HSNZ)</text></g>
<g id="n219" transform="rotate(369.75)"><text x="-260">AC1115</text><text x="-295">MALAYSIA (HSNZ)</text></g>
<g id="n220" transform="rotate(371.3)"><text x="-260">AC1308</text><text x="-295">MALAYSIA (HSNZ)</text></g>
<g id="n221" transform="rotate(372.85)"><text x="-260">AC1384</text><text x="-295">MALAYSIA (HSNZ)</text></g>
<g id="n222" transform="rotate(374.4)"><text x="-260">AC1406</text><text x="-295">MALAYSIA (HSNZ)</text></g>
<g id="n223" transform="rotate(375.95)"><text x="-260">AC1415</text><text x="-295">MALAYSIA (HSNZ)</text></g>
<g id="n224" transform="rotate(377.5)"><text x="-260">CRE38</text><text x="-295">MALAYSIA (SARAWAK)</text></g>
<g id="n225" transform="rotate(379.05)"><text x="-260">AC1230</text><text x="-295">MALAYSIA (HSNZ)</text></g>
</g>
<g id="strip" class="ring">
<circle r="345" stroke="#3cb27c" pathLength="360" stroke-dasharray="18.6 999" transform="rotate(209.525)"/>
<circle r="345" stroke="#3cb27c" pathLength="360" stroke-dasharray="17.05 999" transform="rotate(231.225)"/>
<circle r="345" stroke="#3cb27c" pathLength="360" stroke-dasharray="24.8 999" transform="rotate(254.475)"/>
<circle r="345" stroke="#3cb27c" pathLength="360" stroke-dasharray="3.1 999" transform="rotate(282.375)"/>
<circle r="345" stroke="#3cb27c" pathLength="360" stroke-dasharray="3.1 999" transform="rotate(296.325)"/>
<circle r="345" stroke="#3cb27c" pathLength="360" stroke-dasharray="6.2 999" transform="rotate(307.175)"/>
<circle r="345" stroke="#3cb27c" pathLength="360" stroke-dasharray="3.1 999" transform="rotate(314.925)"/>
<circle r="345" stroke="#3cb27c" pathLength="360" stroke-dasharray="3.1 999" transform="rotate(324.225)"/>
<circle r="345" stroke="#3cb27c" pathLength="360" stroke-dasharray="3.1 999" transform="rotate(328.875)"/>
<circle r="345" stroke="#3cb27c" pathLength="360" stroke-dasharray="3.1 999" transform="rotate(335.075)"/>
<circle r="345" stroke="#3cb27c" pathLength="360" stroke-dasharray="3.1 999" transform="rotate(342.825)"/>
<circle r="345" stroke="#3cb27c" pathLength="360" stroke-dasharray="1.55 999" transform="rotate(347.475)"/>
<circle r="345" stroke="#3cb27c" pathLength="360" stroke-dasharray="3.1 999" transform="rotate(352.125)"/>
<circle r="345" stroke="#3cb27c" pathLength="360" stroke-dasharray="6.2 999" transform="rotate(358.325)"/>
<circle r="345" stroke="#3cb27c" pathLength="360" stroke-dasharray="1.55 999" transform="rotate(18.475)"/>
<circle r="345" stroke="#3cb27c" pathLength="360" stroke-dasharray="9.3 999" transform="rotate(29.325)"/>
<circle r="345" stroke="#3cb27c" pathLength="360" stroke-dasharray="151.9 999" transform="rotate(47.925)"/>
<circle r="345" stroke="#f78a33" pathLength="360" stroke-dasharray="3.1 999" transform="rotate(209.525)"/>
<circle r="345" stroke="#f78a33" pathLength="360" stroke-dasharray="3.1 999" transform="rotate(214.175)"/>
<circle r="345" stroke="#f78a33" pathLength="360" stroke-dasharray="1.55 999" transform="rotate(220.375)"/>
<circle r="345" stroke="#f78a33" pathLength="360" stroke-dasharray="1.55 999" transform="rotate(223.475)"/>
<circle r="345" stroke="#f78a33" pathLength="360" stroke-dasharray="1.55 999" transform="rotate(231.225)"/>
<circle r="345" stroke="#f78a33" pathLength="360" stroke-dasharray="4.65 999" transform="rotate(234.325)"/>
<circle r="345" stroke="#ffe933" pathLength="360" stroke-dasharray="1.55 999" transform="rotate(243.625)"/>
<circle r="345" stroke="#f78a33" pathLength="360" stroke-dasharray="1.55 999" transform="rotate(263.775)"/>
<circle r="345" stroke="#c6f76b" pathLength="360" stroke-dasharray="1.55 999" transform="rotate(269.975)"/>
<circle r="345" stroke="#f78a33" pathLength="360" stroke-dasharray="1.55 999" transform="rotate(283.925)"/>
<circle r="345" stroke="#f78a33" pathLength="360" stroke-dasharray="1.55 999" transform="rotate(297.875)"/>
<circle r="345" stroke="#f78a33" pathLength="360" stroke-dasharray="1.55 999" transform="rotate(358.325)"/>
<circle r="345" stroke="#f78a33" pathLength="360" stroke-dasharray="1.55 999" transform="rotate(2.975)"/>
<circle r="345" stroke="#f05fb4" pathLength="360" stroke-dasharray="1.55 999" transform="rotate(15.375)"/>
<circle r="345" stroke="#f05fb4" pathLength="360" stroke-dasharray="1.55 999" transform="rotate(33.975)"/>
<circle r="345" stroke="#ffe933" pathLength="360" stroke-dasharray="1.55 999" transform="rotate(35.525)"/>
<circle r="345" stroke="#f78a33" pathLength="360" stroke-dasharray="3.1 999" transform="rotate(66.525)"/>
<circle r="345" stroke="#ffe933" pathLength="360" stroke-dasharray="3.1 999" transform="rotate(77.375)"/>
<circle r="345" stroke="#f05fb4" pathLength="360" stroke-dasharray="1.55 999" transform="rotate(80.475)"/>
<circle r="345" stroke="#f78a33" pathLength="360" stroke-dasharray="9.3 999" transform="rotate(82.025)"/>
<circle r="345" stroke="#f78a33" pathLength="360" stroke-dasharray="1.55 999" transform="rotate(94.425)"/>
<circle r="345" stroke="#f78a33" pathLength="360" stroke-dasharray="4.65 999" transform="rotate(109.925)"/>
<circle r="345" stroke="#f78a33" pathLength="360" stroke-dasharray="3.1 999" transform="rotate(122.325)"/>
<circle r="345" stroke="#b8860b" pathLength="360" stroke-dasharray="1.55 999" transform="rotate(133.175)"/>
<circle r="345" stroke="#f05fb4" pathLength="360" stroke-dasharray="1.55 999" transform="rotate(134.725)"/>
<circle r="345" stroke="#c6f76b" pathLength="360" stroke-dasharray="1.55 999" transform="rotate(167.275)"/>
<circle r="345" stroke="#f05fb4" pathLength="360" stroke-dasharray="1.55 999" transform="rotate(181.225)"/>
<circle r="345" stroke="#eedfcc" pathLength="360" stroke-dasharray="1.55 999" transform="rotate(196.725)"/>
</g>
</g>
<g id="header">
<text transform="translate(61.5,221) rotate(-62)" text-anchor="middle" dominant-baseline="central" font-size="5" fill="#333">COUNTRY</text>
</g>
<g id="scale">
<text x="1" y="5" font-size="4.3" fill="#333">Tree scale: 0.001</text>
<path d="M43 3H61M43 1.8V4.2M61 1.8V4.2" stroke="#555" stroke-width=".5" fill="none"/>
</g>
<g id="legend-isolates" class="lg">
<text class="h" x="682" y="25">MALAYSIAN ISOLATES</text>
<line x1="680" y1="29" x2="765" y2="29" stroke="#aaa" stroke-width=".5"/>
<rect x="682" y="31.5" width="8" height="7" fill="#3cb27c"/><text x="695" y="37">HSNZ (TERENGGANU)</text>
<rect x="682" y="44" width="8" height="7" fill="#b8860b"/><text x="695" y="49.5">KELANTAN</text>
<rect x="682" y="56.5" width="8" height="7" fill="#ffe933"/><text x="695" y="62">KUALA LUMPUR</text>
<rect x="682" y="69" width="8" height="7" fill="#c6f76b"/><text x="695" y="74.5">PAHANG</text>
<rect x="682" y="81.5" width="8" height="7" fill="#f05fb4"/><text x="695" y="87">PERAK</text>
<rect x="682" y="94" width="8" height="7" fill="#eedfcc"/><text x="695" y="99.5">SARAWAK</text>
<rect x="682" y="106.5" width="8" height="7" fill="#5a8ef5"/><text x="695" y="112">SELANGOR</text>
<rect x="682" y="119" width="8" height="7" fill="#f78a33"/><text x="695" y="124.5">SEGAMAT</text>
</g>
<g id="legend-clonal" class="lg">
<text class="h" x="708" y="141">GLOBAL CLONAL</text>
<line x1="706" y1="145" x2="765" y2="145" stroke="#aaa" stroke-width=".5"/>
<rect x="708.5" y="148" width="8" height="7.5" fill="#a7c4ec" stroke="#8aa" stroke-width=".3"/><text x="721" y="154">GC 1</text>
<rect x="708.5" y="160.5" width="8" height="7.5" fill="#e8cbd7" stroke="#b9a" stroke-width=".3"/><text x="721" y="166.5">GC 2</text>
<rect x="708.5" y="173" width="8" height="7.5" fill="#d6baf0" stroke="#a9b" stroke-width=".3"/><text x="721" y="179">GC 3</text>
<rect x="708.5" y="185.5" width="8" height="7.5" fill="#d7ecd0" stroke="#aba" stroke-width=".3"/><text x="721" y="191.5">GC 4</text>
<rect x="708.5" y="198" width="8" height="7.5" fill="#fcf9a6" stroke="#bb9" stroke-width=".3"/><text x="721" y="204">GC 5</text>
<rect x="708.5" y="210.5" width="8" height="7.5" fill="#e69a99" stroke="#b88" stroke-width=".3"/><text x="721" y="216.5">GC 6</text>
<rect x="708.5" y="223" width="8" height="7.5" fill="#cddde0" stroke="#abb" stroke-width=".3"/><text x="721" y="229">GC 7</text>
<rect x="708.5" y="235.5" width="8" height="7.5" fill="#f7c69b" stroke="#ba9" stroke-width=".3"/><text x="721" y="241.5">GC 8</text>
</g>
</svg>
